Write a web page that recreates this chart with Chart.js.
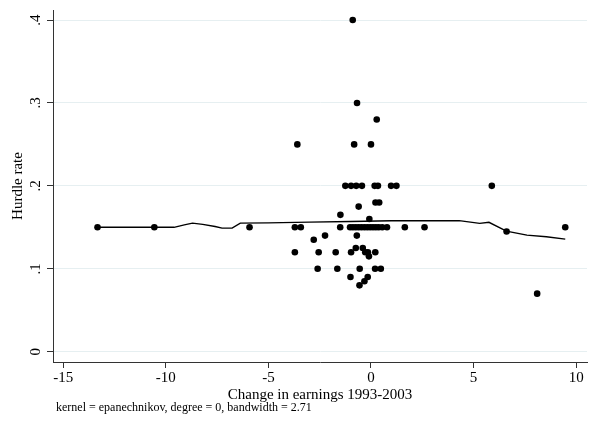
<!DOCTYPE html>
<html>
<head>
<meta charset="utf-8">
<script src="https://cdn.jsdelivr.net/npm/chart.js@4"></script>
<style>
  html, body { margin: 0; padding: 0; background: #fff; }
</style>
</head>
<body>
<canvas id="chart" width="591" height="423"></canvas>
<script>
// Scatter: change in earnings vs hurdle rate (one entry per firm)
const changeX = [
  -13.33, -10.56, -5.92, -3.71, -3.42, -1.50, -1.02, -0.88, -0.74, -0.60, -0.46,
  -0.32, -0.18, -0.04, 0.10, 0.24, 0.38, 0.55, 0.78, 1.65, 2.61, 9.47,
  -0.89,
  -0.68,
  0.28,
  -3.59, -0.82, 0.00,
  -1.25, -0.97, -0.72, -0.44, 0.18, 0.34, 0.98, 1.24, 5.89,
  0.22, 0.40,
  -0.60,
  -1.49,
  -0.08,
  6.61,
  -2.24, -0.69,
  -2.79,
  -0.74, -0.40,
  -3.71, -2.55, -1.72, -0.97, -0.28, -0.15, 0.21,
  -0.10,
  -2.60, -1.64, -0.55, 0.20, 0.48,
  -1.00, -0.16,
  -0.32,
  -0.56,
  8.10
];
const hurdleY = [
  0.15, 0.15, 0.15, 0.15, 0.15, 0.15, 0.15, 0.15, 0.15, 0.15, 0.15,
  0.15, 0.15, 0.15, 0.15, 0.15, 0.15, 0.15, 0.15, 0.15, 0.15, 0.15,
  0.40,
  0.30,
  0.28,
  0.25, 0.25, 0.25,
  0.20, 0.20, 0.20, 0.20, 0.20, 0.20, 0.20, 0.20, 0.20,
  0.18, 0.18,
  0.175,
  0.165,
  0.16,
  0.145,
  0.14, 0.14,
  0.135,
  0.125, 0.125,
  0.12, 0.12, 0.12, 0.12, 0.12, 0.12, 0.12,
  0.115,
  0.10, 0.10, 0.10, 0.10, 0.10,
  0.09, 0.09,
  0.085,
  0.08,
  0.07
];

// kernel-weighted local mean
const smoothX = [-13.33, -10.56, -9.6, -9.1, -8.7, -8.2, -7.6, -7.26, -6.77, -6.37,
                 -5.0, -3.0, -1.0, 1.0, 2.3, 3.5, 4.3, 5.3, 5.75, 6.6, 7.6, 8.55, 9.47];
const smoothY = [0.150, 0.150, 0.150, 0.153, 0.155, 0.1535, 0.151, 0.149, 0.149, 0.155,
                 0.1553, 0.1562, 0.157, 0.158, 0.158, 0.158, 0.158, 0.1547, 0.156, 0.1454, 0.1406, 0.1386, 0.1358];

const xTicks = [-15, -10, -5, 0, 5, 10];
const yTicks = [0, 0.1, 0.2, 0.3, 0.4];
const yTickLabels = ['0', '.1', '.2', '.3', '.4'];

const xTitle = 'Change in earnings 1993-2003';
const yTitle = 'Hurdle rate';
const note = 'kernel = epanechnikov, degree = 0, bandwidth = 2.71';

const serif = '"Liberation Serif", "DejaVu Serif", serif';

// rotated y labels + the note under the axis title
const stataText = {
  id: 'stataText',
  afterDraw(chart) {
    const ctx = chart.ctx;
    const ys = chart.scales.y;
    ctx.save();
    ctx.fillStyle = '#000';
    ctx.font = '15px ' + serif;
    ys.ticks.forEach((t, i) => {
      const py = ys.getPixelForValue(t.value);
      ctx.save();
      ctx.translate(36, py);
      ctx.rotate(-Math.PI / 2);
      ctx.textAlign = 'center';
      ctx.textBaseline = 'middle';
      ctx.fillText(yTickLabels[i], 0, 0);
      ctx.restore();
    });
    ctx.font = '12px ' + serif;
    ctx.textAlign = 'left';
    ctx.textBaseline = 'middle';
    ctx.fillText(note, chart.chartArea.left + 3, 408);
    ctx.restore();
  }
};

const ctx = document.getElementById('chart').getContext('2d');
new Chart(ctx, {
  type: 'scatter',
  data: {
    datasets: [
      {
        data: smoothX.map((x, i) => ({ x: x, y: smoothY[i] })),
        showLine: true,
        borderColor: '#000',
        borderWidth: 1.4,
        pointRadius: 0,
        fill: false
      },
      {
        data: changeX.map((x, i) => ({ x: x, y: hurdleY[i] })),
        backgroundColor: '#000',
        borderColor: '#000',
        borderWidth: 0,
        pointRadius: 3.3
      }
    ]
  },
  options: {
    responsive: false,
    animation: false,
    layout: { padding: { top: 10, right: 0, bottom: 0, left: 0 } },
    plugins: {
      legend: { display: false },
      tooltip: { enabled: false }
    },
    scales: {
      x: {
        type: 'linear',
        min: -15.5,
        max: 10.53,
        afterBuildTicks: s => { s.ticks = xTicks.map(v => ({ value: v })); },
        afterFit: s => { s.height = 61; },
        grid: { drawOnChartArea: false, tickLength: 6, tickColor: '#333' },
        border: { color: '#333', width: 1 },
        ticks: { color: '#000', font: { family: serif, size: 15 }, padding: 1, maxRotation: 0, autoSkip: false },
        title: { display: true, text: xTitle, color: '#000', font: { family: serif, size: 15 }, padding: { top: 0, bottom: 19 } }
      },
      y: {
        type: 'linear',
        min: -0.01242,
        max: 0.41206,
        afterBuildTicks: s => { s.ticks = yTicks.map(v => ({ value: v })); },
        afterFit: s => { s.width = 53; },
        grid: { color: '#e6eff1', lineWidth: 1, tickLength: 6, tickColor: '#333' },
        border: { color: '#333', width: 1 },
        ticks: { display: false },
        title: { display: true, text: yTitle, color: '#000', font: { family: serif, size: 15 }, padding: { top: 9, bottom: 0 } }
      }
    }
  },
  plugins: [stataText]
});
</script>
</body>
</html>
